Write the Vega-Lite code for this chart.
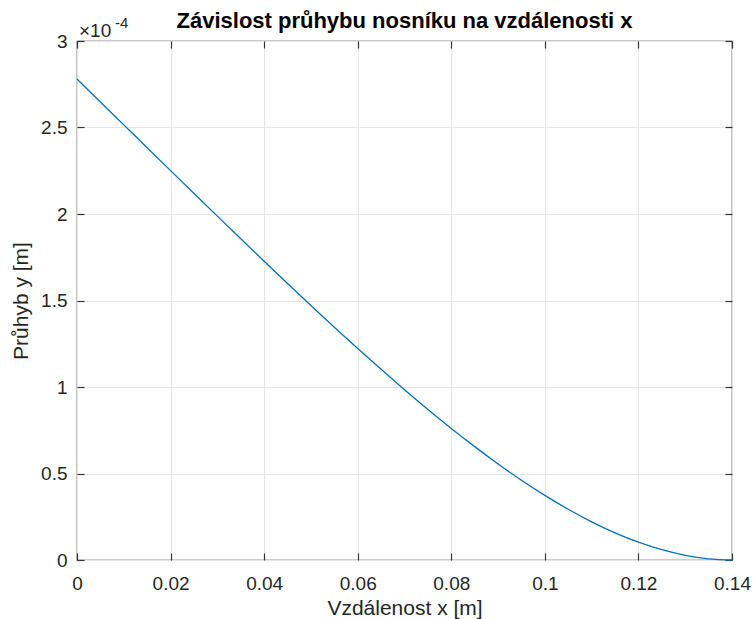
{
  "$schema": "https://vega.github.io/schema/vega-lite/v6.json",
  "autosize": {"type": "none"},
  "padding": {"left": 77, "top": 41, "right": 21, "bottom": 59},
  "width": 655,
  "height": 519,
  "background": "white",
  "config": {
    "font": "Liberation Sans",
    "view": {"stroke": "#333333", "strokeWidth": 1.2},
    "axis": {
      "domain": false,
      "gridColor": "#e6e6e6",
      "gridWidth": 1,
      "tickColor": "#333333",
      "tickSize": -7,
      "tickWidth": 1.2,
      "labelColor": "#262626",
      "labelFontSize": 19,
      "titleColor": "#262626",
      "titleFontSize": 21,
      "titleFontWeight": "normal"
    }
  },
  "title": {
    "text": "Závislost průhybu nosníku na vzdálenosti x",
    "fontSize": 22,
    "fontWeight": "bold",
    "color": "#000000",
    "anchor": "middle",
    "offset": -17
  },
  "data": {
    "values": [
      {"x": 0, "y": 2.78},
      {"x": 0.005, "y": 2.6476},
      {"x": 0.01, "y": 2.5153},
      {"x": 0.015, "y": 2.383},
      {"x": 0.02, "y": 2.2509},
      {"x": 0.025, "y": 2.119},
      {"x": 0.03, "y": 1.9877},
      {"x": 0.035, "y": 1.857},
      {"x": 0.04, "y": 1.7271},
      {"x": 0.045, "y": 1.5985},
      {"x": 0.05, "y": 1.4713},
      {"x": 0.055, "y": 1.3459},
      {"x": 0.06, "y": 1.2227},
      {"x": 0.065, "y": 1.1021},
      {"x": 0.07, "y": 0.9846},
      {"x": 0.075, "y": 0.8706},
      {"x": 0.08, "y": 0.7607},
      {"x": 0.085, "y": 0.6554},
      {"x": 0.09, "y": 0.5554},
      {"x": 0.095, "y": 0.4612},
      {"x": 0.1, "y": 0.3736},
      {"x": 0.105, "y": 0.2932},
      {"x": 0.11, "y": 0.2208},
      {"x": 0.115, "y": 0.1571},
      {"x": 0.12, "y": 0.103},
      {"x": 0.125, "y": 0.0594},
      {"x": 0.13, "y": 0.027},
      {"x": 0.135, "y": 0.0069},
      {"x": 0.14, "y": 0}
    ]
  },
  "resolve": {"axis": {"x": "independent", "y": "independent"}},
  "layer": [
    {
      "mark": {"type": "line", "color": "#0072BD", "strokeWidth": 1.3, "interpolate": "monotone"},
      "encoding": {
        "x": {
          "field": "x", "type": "quantitative",
          "scale": {"domain": [0, 0.14], "nice": false, "zero": false},
          "axis": {"values": [0, 0.02, 0.04, 0.06, 0.08, 0.1, 0.12, 0.14], "format": "~g", "labelPadding": 21, "title": "Vzdálenost x [m]", "titlePadding": 4, "labelFlush": false}
        },
        "y": {
          "field": "y", "type": "quantitative",
          "scale": {"domain": [0, 3], "nice": false},
          "axis": {"values": [0, 0.5, 1, 1.5, 2, 2.5, 3], "format": "~g", "labelPadding": 17, "title": "Průhyb y [m]", "titlePadding": 9, "labelFlush": false}
        }
      }
    },
    {
      "mark": {"type": "line", "strokeOpacity": 0},
      "encoding": {
        "x": {
          "field": "x", "type": "quantitative",
          "axis": {"orient": "top", "values": [0, 0.02, 0.04, 0.06, 0.08, 0.1, 0.12, 0.14], "labels": false, "grid": false, "title": null}
        },
        "y": {
          "field": "y", "type": "quantitative",
          "axis": {"orient": "right", "values": [0, 0.5, 1, 1.5, 2, 2.5, 3], "labels": false, "grid": false, "title": null}
        }
      }
    },
    {
      "data": {"values": [{"label": "×10"}]},
      "mark": {"type": "text", "align": "left", "baseline": "alphabetic", "dy": -4, "dx": 2, "fontSize": 19, "color": "#262626", "font": "Liberation Sans"},
      "encoding": {
        "x": {"datum": 0, "type": "quantitative", "axis": null},
        "y": {"datum": 3, "type": "quantitative", "axis": null},
        "text": {"field": "label"}
      }
    },
    {
      "data": {"values": [{"label": "-4"}]},
      "mark": {"type": "text", "align": "left", "baseline": "alphabetic", "dy": -13, "dx": 38, "fontSize": 15, "color": "#262626", "font": "Liberation Sans"},
      "encoding": {
        "x": {"datum": 0, "type": "quantitative", "axis": null},
        "y": {"datum": 3, "type": "quantitative", "axis": null},
        "text": {"field": "label"}
      }
    }
  ]
}
